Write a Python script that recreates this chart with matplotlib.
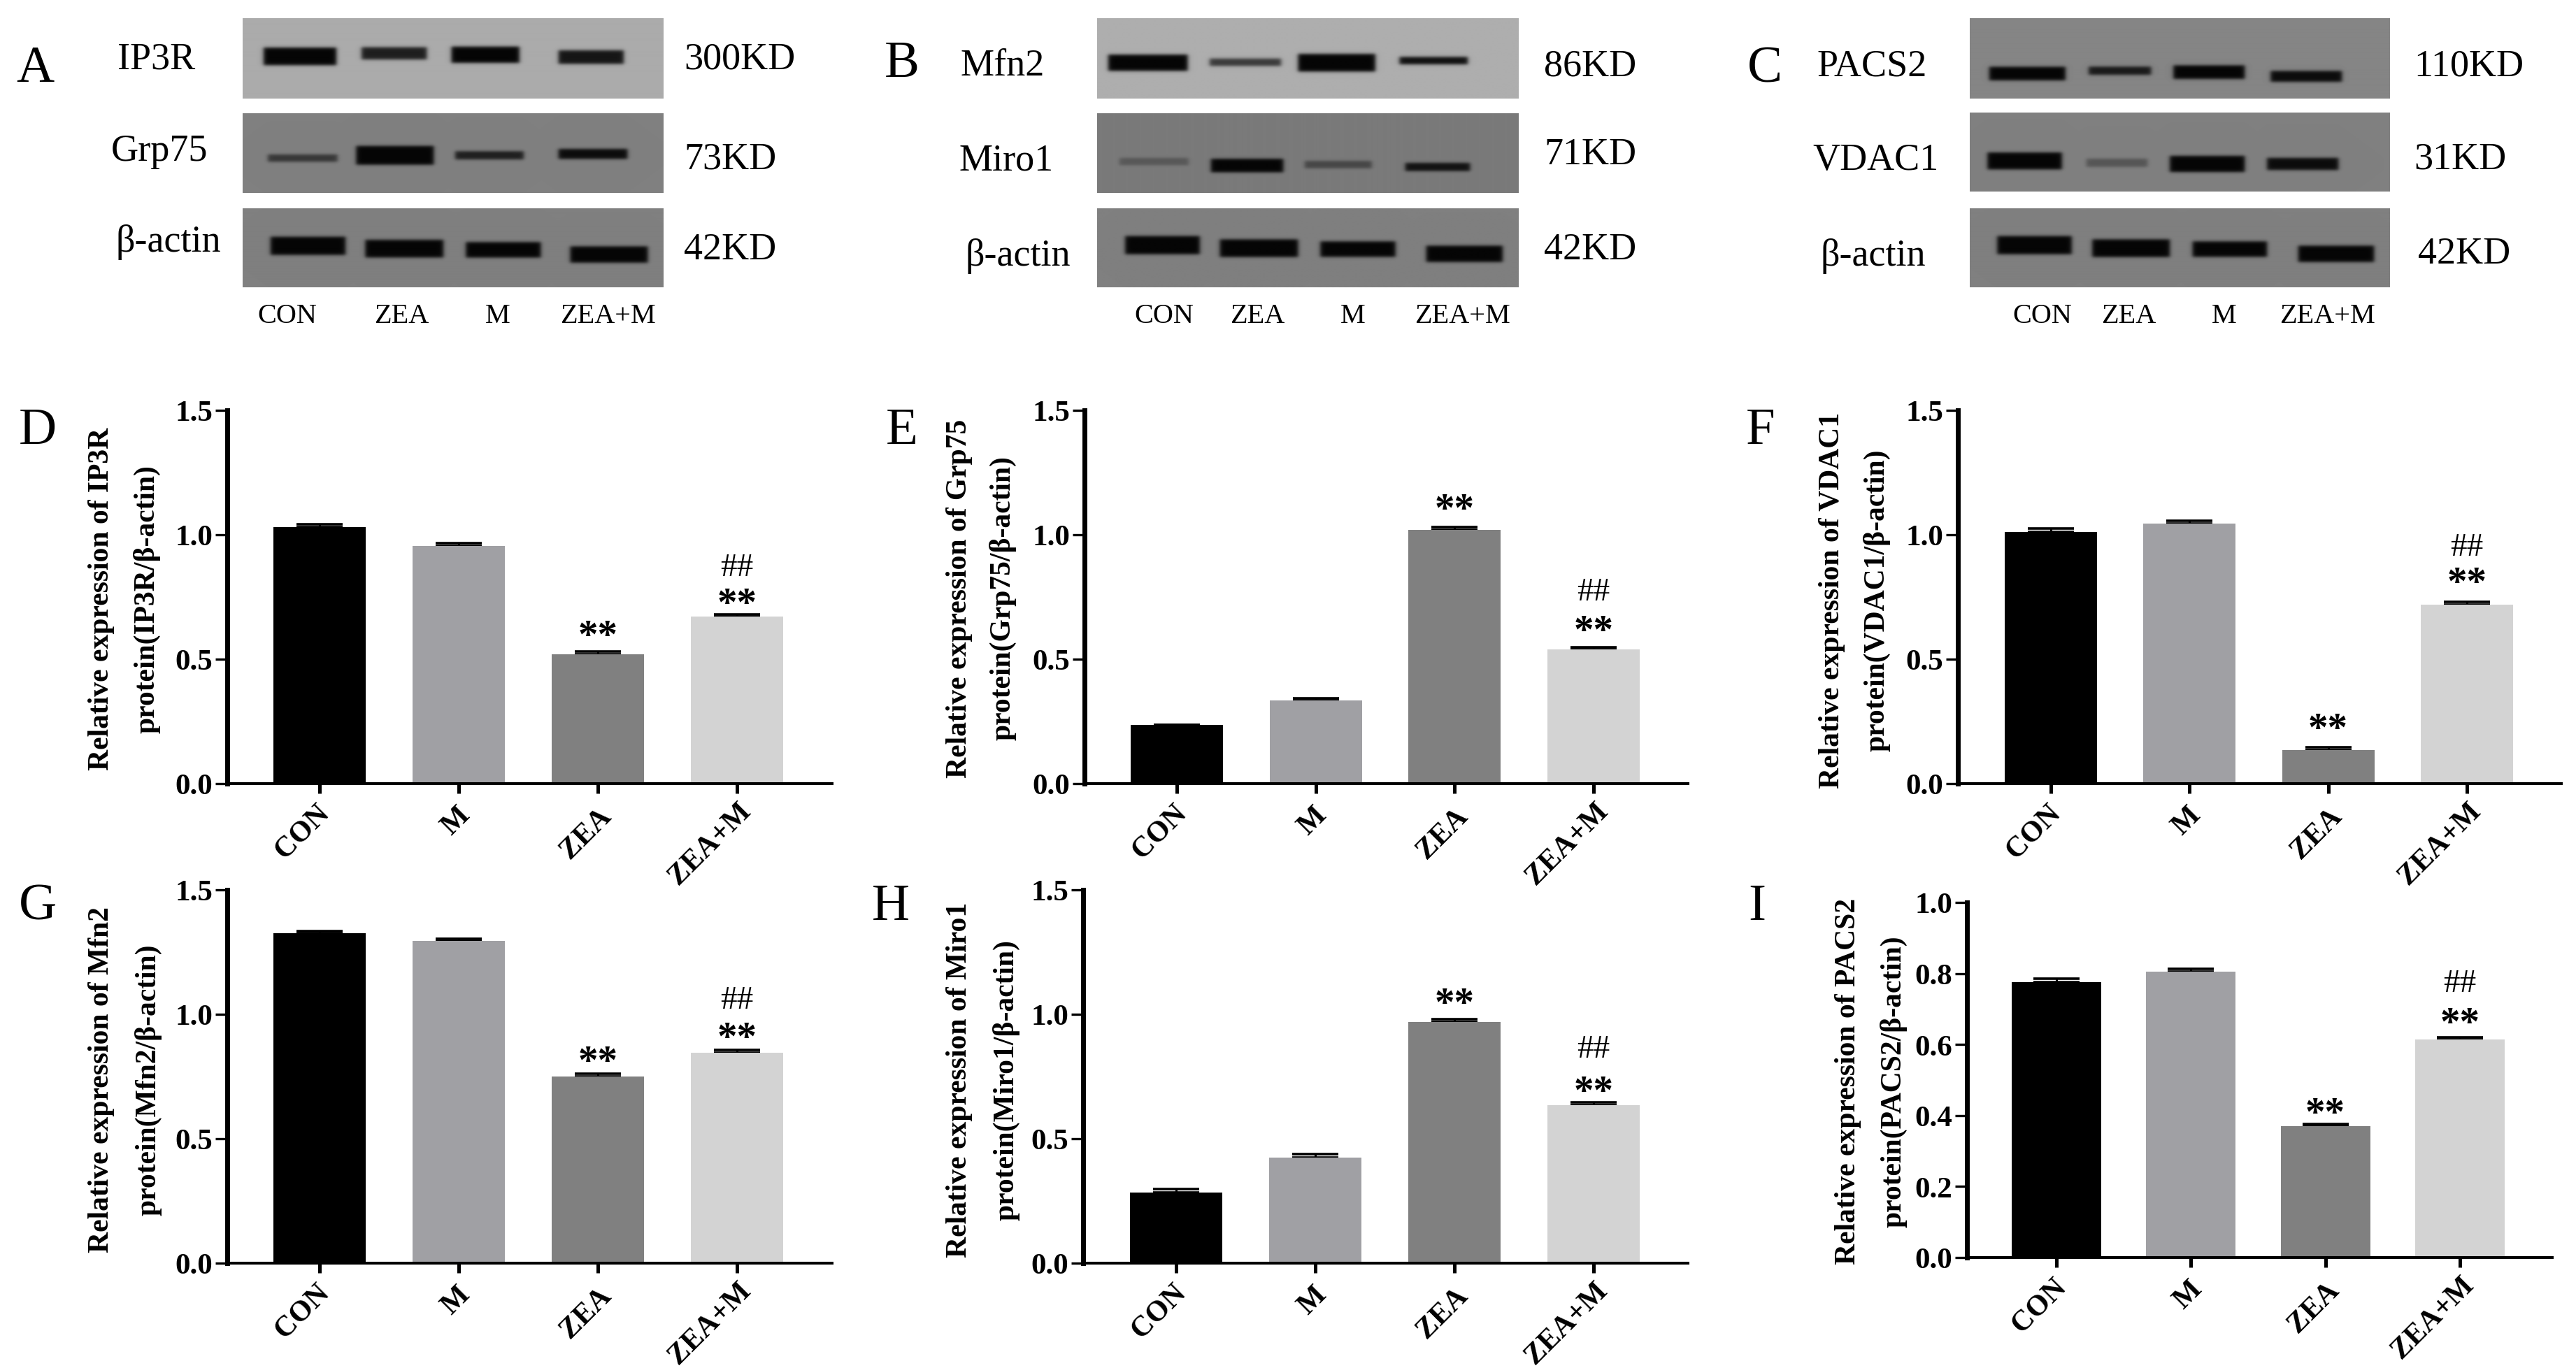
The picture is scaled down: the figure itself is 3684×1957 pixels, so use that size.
import numpy as np
import matplotlib
matplotlib.use("Agg")
import matplotlib.pyplot as plt
from matplotlib.transforms import ScaledTranslation

W, H = 3684, 1958
plt.rcParams['font.family'] = ['Liberation Serif', 'DejaVu Serif']

# ---------- data ----------
groups = ['CON', 'M', 'ZEA', 'ZEA+M']
bar_colors = ['#000000', '#a0a0a4', '#808080', '#d3d3d3']

ip3r = [1.03, 0.955, 0.52, 0.67]
grp75 = [0.235, 0.335, 1.02, 0.54]
vdac1 = [1.01, 1.045, 0.135, 0.72]
mfn2 = [1.325, 1.295, 0.75, 0.845]
miro1 = [0.285, 0.425, 0.97, 0.635]
pacs2 = [0.775, 0.805, 0.37, 0.615]

ip3r_err = [0.012, 0.01, 0.01, 0.01]
grp75_err = [0.0, 0.008, 0.012, 0.008]
vdac1_err = [0.014, 0.012, 0.012, 0.01]
mfn2_err = [0.008, 0.008, 0.01, 0.012]
miro1_err = [0.014, 0.012, 0.01, 0.01]
pacs2_err = [0.01, 0.008, 0.006, 0.006]

lane_labels = ['CON', 'ZEA', 'M', 'ZEA+M']

# band: (left, right, y centre, thickness, strength)  in zoomed-blot units
bands_A = [
    [(492, 628, 245, 60, 1), (675, 797, 232, 40, .85), (843, 970, 238, 55, 1), (1043, 1165, 248, 45, .9)],
    [(500, 630, 680, 22, .6), (665, 810, 668, 65, 1), (850, 978, 668, 25, .8), (1043, 1172, 662, 32, .95)],
    [(505, 645, 1058, 62, 1), (682, 828, 1070, 60, 1), (870, 1010, 1075, 52, 1), (1065, 1210, 1095, 55, 1)],
]
bands_B = [
    [(540, 718, 272, 55, 1), (767, 927, 270, 22, .7), (965, 1138, 272, 60, 1), (1192, 1345, 263, 22, .95)],
    [(565, 720, 695, 22, .3), (770, 932, 712, 45, 1), (980, 1130, 708, 22, .45), (1205, 1350, 718, 25, .9)],
    [(578, 745, 1055, 62, 1), (790, 965, 1068, 60, 1), (1015, 1183, 1072, 52, 1), (1252, 1423, 1092, 55, 1)],
]
bands_C = [
    [(587, 758, 318, 45, 1), (810, 950, 306, 25, .85), (1000, 1160, 312, 45, 1), (1218, 1378, 330, 35, .95)],
    [(583, 750, 692, 58, 1), (805, 942, 700, 25, .35), (992, 1160, 705, 55, 1), (1210, 1370, 705, 40, .95)],
    [(605, 772, 1055, 62, 1), (818, 992, 1068, 60, 1), (1043, 1210, 1072, 52, 1), (1280, 1450, 1092, 55, 1)],
]

fig = plt.figure(figsize=(W / 100, H / 100), dpi=100, facecolor='white')


def px(x, y):
    return x / W, 1 - y / H


def label(x, y, s, size, ha='left', va='center', **kw):
    fx, fy = px(x, y)
    return fig.text(fx, fy, s, fontsize=size, ha=ha, va=va, color='black', **kw)


# ---------- blots ----------
def draw_blot(x0, x1, row_tops, row_bots, backgrounds, bands, sx, off):
    for top, bot, bg, row in zip(row_tops, row_bots, backgrounds, bands):
        w, h = int(x1 - x0), int(bot - top)
        xx, yy = np.meshgrid(np.arange(w) + x0, np.arange(h) + top)
        dark = np.zeros((h, w))
        for (l, r, yc, th, s) in row:
            l, r = l / sx + off, r / sx + off
            yc, th = yc / 3, th / 3 * 1.15 + 2
            ex = 0.5 * (np.tanh((xx - l) / 3.5) - np.tanh((xx - r) / 3.5))
            ey = 0.5 * (np.tanh((yy - yc + th / 2) / 2.6) - np.tanh((yy - yc - th / 2) / 2.6))
            dark = np.maximum(dark, s * ex * ey)
        img = bg * (1 - dark) + 0.02 * dark
        ax = fig.add_axes([x0 / W, 1 - bot / H, (x1 - x0) / W, (bot - top) / H])
        ax.imshow(img, cmap='gray', vmin=0, vmax=1, aspect='auto', interpolation='bilinear')
        ax.axis('off')


draw_blot(347, 949, [27, 163, 299], [142, 277, 412], [.67, .50, .50], bands_A, 1.3067, 0)
draw_blot(1569, 2171, [27, 163, 299], [142, 277, 412], [.68, .48, .50], bands_B, 1.568, 1240)
draw_blot(2817, 3418, [27, 162, 299], [142, 275, 412], [.52, .50, .50], bands_C, 1.568, 2470)

blot_text = [
    (168, 85, 'IP3R'), (159, 217, 'Grp75'), (165, 347, 'β-actin'),
    (978, 85, '300KD'), (978, 228, '73KD'), (978, 358, '42KD'),
    (1373, 95, 'Mfn2'), (1371, 230, 'Miro1'), (1380, 367, 'β-actin'),
    (2208, 95, '86KD'), (2208, 222, '71KD'), (2208, 358, '42KD'),
    (2598, 95, 'PACS2'), (2592, 230, 'VDAC1'), (2603, 367, 'β-actin'),
    (3452, 95, '110KD'), (3452, 228, '31KD'), (3458, 364, '42KD'),
]
for x, y, s in blot_text:
    label(x, y, s, 39)

for xs in ([411, 574, 712, 869], [1665, 1798, 1935, 2091], [2921, 3044, 3181, 3328]):
    for x, s in zip(xs, lane_labels):
        label(x, 453, s, 29, ha='center')

panel_letters = [
    ('A', 23, 117), ('B', 1265, 110), ('C', 2499, 117),
    ('D', 27, 635), ('E', 1267, 635), ('F', 2497, 635),
    ('G', 27, 1316), ('H', 1247, 1316), ('I', 2500, 1316),
]
for s, x, y in panel_letters:
    label(x, y, s, 54, va='baseline')

# top-right corner of each rotated group label's box relative to tick / axis, in pixels
label_corner = {'CON': (22, 22), 'M': (23, 26), 'ZEA': (27, 27), 'ZEA+M': (28, 19)}


# ---------- bar panels ----------
def bar_panel(vals, errs, spine, end, top, y0, c0, step, bw, ymax, yticks, fmt,
              l1, l2, lx1, lx2, lyc, star_off, hash_off):
    ax = fig.add_axes([spine / W, 1 - y0 / H, (end - spine) / W, (y0 - top) / H])
    x = np.arange(4)
    ax.bar(x, vals, width=bw / step, color=bar_colors, linewidth=0, zorder=2)
    ax.errorbar(x, vals, yerr=[[0] * 4, errs], fmt='none', ecolor='black',
                elinewidth=2.2, capsize=23.5, capthick=2.6, zorder=1)
    ax.set_xlim((spine - c0) / step, (end - c0) / step)
    ax.set_ylim(0, ymax)
    ax.patch.set_alpha(0)
    for s in ('top', 'right'):
        ax.spines[s].set_visible(False)
    ax.spines['left'].set_linewidth(5)
    ax.spines['bottom'].set_linewidth(2.9)
    ax.set_yticks(yticks)
    ax.set_yticklabels([fmt % t for t in yticks], fontsize=31, fontweight='bold')
    ax.tick_params(axis='y', length=12, width=2.4, pad=3)
    ax.set_xticks(x)
    ax.set_xticklabels(groups, fontsize=30, fontweight='bold', rotation=45,
                       ha='right', rotation_mode='anchor')
    ax.tick_params(axis='x', length=10, width=3.6, pad=14)
    label(lx1, lyc, l1, 30, ha='center', rotation=90, fontweight='bold')
    label(lx2, lyc, l2, 30, ha='center', rotation=90, fontweight='bold')
    # significance marks, offsets in pixels from the top of the bar
    for i, off in star_off:
        ax.annotate('**', (x[i], vals[i]), xytext=(0, (off - 24) * 0.72), textcoords='offset points',
                    ha='center', va='baseline', fontsize=41, fontweight='bold')
    for i, off in hash_off:
        ax.annotate('##', (x[i], vals[i]), xytext=(0, (off - 16) * 0.72), textcoords='offset points',
                    ha='center', va='baseline', fontsize=34)
    # align the rotated group labels to the reference corners
    fig.canvas.draw()
    for lab, xi in zip(ax.get_xticklabels(), x):
        bb = lab.get_window_extent()
        tx, ty = ax.transData.transform((xi, 0))
        rx, ry = label_corner[lab.get_text()]
        dx = (tx + rx) - bb.x1
        dy = (ty - ry) - bb.y1
        lab.set_transform(lab.get_transform() + ScaledTranslation(dx / 100, dy / 100, fig.dpi_scale_trans))


t15 = [0, 0.5, 1.0, 1.5]
t10 = [0, 0.2, 0.4, 0.6, 0.8, 1.0]
bar_panel(ip3r, ip3r_err, 325, 1190, 588, 1122, 457, 199, 132, 1.5, t15, '%.1f',
          'Relative expression of IP3R', 'protein(IP3R/β-actin)', 145, 210, 857,
          [(2, 35), (3, 27)], [(3, 75)])
bar_panel(grp75, grp75_err, 1551, 2414, 588, 1122, 1683, 198.7, 132, 1.5, t15, '%.1f',
          'Relative expression of Grp75', 'protein(Grp75/β-actin)', 1372, 1434, 856,
          [(2, 38), (3, 35)], [(3, 87)])
bar_panel(vdac1, vdac1_err, 2800, 3663, 588, 1122, 2933, 198.3, 132, 1.5, t15, '%.1f',
          'Relative expression of VDAC1', 'protein(VDAC1/β-actin)', 2620, 2684, 859,
          [(2, 39), (3, 40)], [(3, 87)])
bar_panel(mfn2, mfn2_err, 325, 1190, 1274, 1808, 457, 199, 132, 1.5, t15, '%.1f',
          'Relative expression of Mfn2', 'protein(Mfn2/β-actin)', 145, 212, 1545,
          [(2, 30), (3, 30)], [(3, 80)])
bar_panel(miro1, miro1_err, 1549, 2414, 1274, 1808, 1682, 199, 132, 1.5, t15, '%.1f',
          'Relative expression of Miro1', 'protein(Miro1/β-actin)', 1372, 1439, 1545,
          [(2, 35), (3, 28)], [(3, 85)])
bar_panel(pacs2, pacs2_err, 2813, 3650, 1292, 1800, 2941, 192.3, 128, 1.0, t10, '%.1f',
          'Relative expression of PACS2', 'protein(PACS2/β-actin)', 2643, 2708, 1547,
          [(2, 27), (3, 32)], [(3, 85)])

fig.savefig('out.png', dpi=100, facecolor='white')
